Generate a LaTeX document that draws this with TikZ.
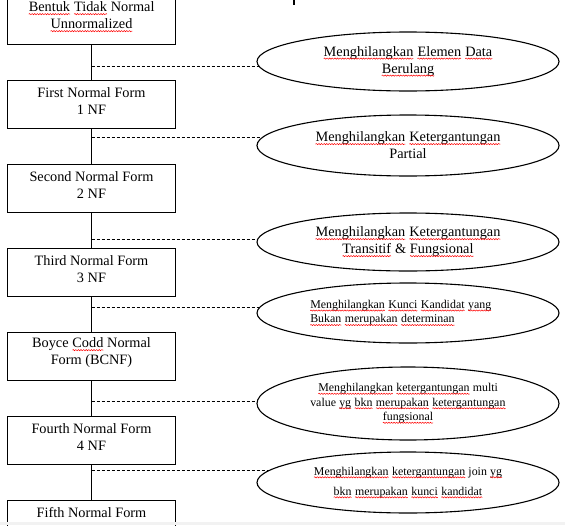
\documentclass[tikz,border=0pt]{standalone}
\usepackage{fontspec}
\setmainfont{Liberation Serif}
\usepackage{tikz}
\usetikzlibrary{shapes.geometric,decorations.pathmorphing}
\tikzset{
  katabox/.style={shape=rectangle,draw=none,fill=none,inner sep=0pt,outer sep=0pt,
    minimum width=0pt,minimum height=0pt},
  gelombang/.style={draw=red,solid,line width=0.5pt,decorate,
    decoration={snake,amplitude=0.6pt,segment length=2.6pt}}}
\newcommand\salah[1]{\tikz[baseline=(w.base)]{\node[katabox] (w) {#1};
  \path[gelombang] ([yshift=-2.2pt]w.base west) -- ([yshift=-2.2pt]w.base east);}}

\begin{document}
\begin{tikzpicture}[x=1pt,y=-1pt,
  nfbox/.style={draw,line width=0.8pt,minimum width=168pt,minimum height=48pt},
  nfteks/.style={align=center,yshift=3pt,font=\fontsize{14.3}{17}\selectfont},
  aksi/.style={ellipse,draw,line width=1.1pt,minimum width=302pt,inner sep=0pt,
    align=center,font=\fontsize{14.3}{17}\selectfont},
  kecil/.style={font=\fontsize{11.9}{14.5}\selectfont},
  putus/.style={dash pattern=on 3pt off 2pt,line width=0.7pt},
  garis/.style={line width=0.8pt}]
\useasboundingbox (0,0) rectangle (565,525);
\clip (0,0) rectangle (565,525);
% bentuk normal
\node[nfbox,label={[nfteks]center:\salah{Bentuk} \salah{Tidak} Normal\\\salah{Unnormalized}}] (b1) at (91.5,20) {};
\node[nfbox,label={[nfteks]center:First Normal Form\\1 NF}] (b2) at (91.5,104) {};
\node[nfbox,label={[nfteks]center:Second Normal Form\\2 NF}] (b3) at (91.5,188) {};
\node[nfbox,label={[nfteks]center:Third Normal Form\\3 NF}] (b4) at (91.5,272) {};
\node[nfbox,label={[nfteks]center:Boyce \salah{Codd} Normal\\Form (BCNF)}] (b5) at (91.5,356) {};
\node[nfbox,label={[nfteks]center:Fourth Normal Form\\4 NF}] (b6) at (91.5,440) {};
\node[nfbox,label={[nfteks]center:Fifth Normal Form\\\mbox{}}] (b7) at (91.5,524) {};
\foreach \a/\b in {b1/b2,b2/b3,b3/b4,b4/b5,b5/b6,b6/b7}
  \draw[garis] (\a) -- (\b);
% langkah normalisasi
\node[aksi,minimum height=59pt] (e1) at (408,61.5)
  {\salah{Menghilangkan} \salah{Elemen} \salah{Data}\\\salah{Berulang}};
\node[aksi,minimum height=61pt] (e2) at (408,145.5)
  {\salah{Menghilangkan} \salah{Ketergantungan}\\Partial};
\node[aksi,minimum height=58pt] (e3) at (408,242)
  {\salah{Menghilangkan} \salah{Ketergantungan}\\\salah{Transitif} \& \salah{Fungsional}};
\node[aksi,kecil,align=flush left,text width=196pt,minimum height=60pt] (e4) at (408,313)
  {\salah{Menghilangkan} \salah{Kunci} \salah{Kandidat} \salah{yang}\\\salah{Bukan} \salah{merupakan} \salah{determinan}};
\node[aksi,kecil,minimum height=73pt] (e5) at (408,403.5)
  {\salah{Menghilangkan} \salah{ketergantungan} multi\\value \salah{yg} \salah{bkn} \salah{merupakan} \salah{ketergantungan}\\\salah{fungsional}};
\node[aksi,kecil,font=\fontsize{11.9}{20}\selectfont,minimum height=61pt] (e6) at (408,482.5)
  {\salah{Menghilangkan} \salah{ketergantungan} join \salah{yg}\\\salah{bkn} \salah{merupakan} \salah{kunci} \salah{kandidat}};
% garis putus-putus
\draw[putus] (b1.south |- e1.182) -- (e1.182);
\draw[putus] (b2.south |- e2.177) -- (e2.177);
\draw[putus] (b3.south |- e3.179) -- (e3.179);
\draw[putus] (b4.south |- e4.178) -- (e4.178);
\draw[putus] (b5.south |- e5.179) -- (e5.179);
\draw[putus] (b6.south |- e6.175) -- (e6.175);
% tanda kecil di atas
\draw[line width=2pt] (294,0) -- (294,5);
\fill[gray!10] (0,522) rectangle (565,525);
\end{tikzpicture}
\end{document}
